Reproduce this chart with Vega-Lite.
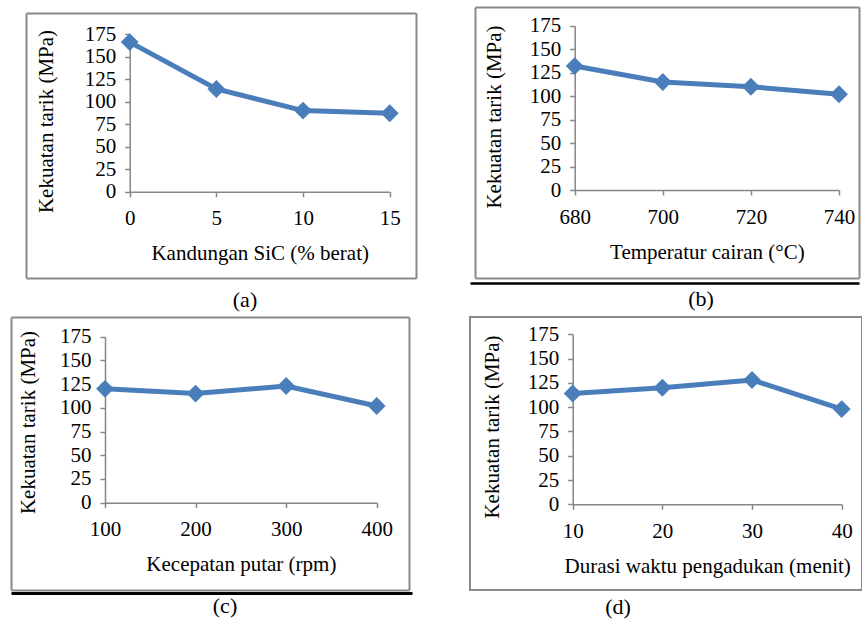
{
  "$schema": "https://vega.github.io/schema/vega-lite/v6.json",
  "padding": {"left": 11, "top": 7, "right": 0, "bottom": 0},
  "background": "white",
  "datasets": {
    "a": [{"x": 0, "y": 166}, {"x": 5, "y": 114}, {"x": 10, "y": 90}, {"x": 15, "y": 87}],
    "b": [{"x": 680, "y": 132}, {"x": 700, "y": 115}, {"x": 720, "y": 110}, {"x": 740, "y": 102}],
    "c": [{"x": 100, "y": 120}, {"x": 200, "y": 115}, {"x": 300, "y": 123}, {"x": 400, "y": 102}],
    "d": [{"x": 10, "y": 114}, {"x": 20, "y": 120}, {"x": 30, "y": 128}, {"x": 40, "y": 98}]
  },
  "config": {
    "view": {"stroke": null},
    "font": "Liberation Serif",
    "axis": {
      "grid": false, "domainColor": "#868686", "domainWidth": 1.5, "tickColor": "#868686", "tickWidth": 1.5, "tickSize": 5,
      "labelFont": "Liberation Serif", "labelFontSize": 21, "labelColor": "#000", "labelPadding": 9, "labelFlush": false, "labelOverlap": false,
      "titleFont": "Liberation Serif", "titleFontSize": 21, "titleFontWeight": "normal", "titleColor": "#000", "titlePadding": 14
    },
    "axisX": {"labelPadding": 11},
    "title": {"font": "Liberation Serif", "fontSize": 22, "fontWeight": "normal", "color": "#000", "orient": "bottom", "frame": "group", "offset": 10}
  },
  "spacing": 5,
  "vconcat": [
    {
      "spacing": 51,
      "hconcat": [
        {
          "width": 405, "height": 271,
          "data": {"name": "a"},
          "title": {"text": "(a)", "dx": 31.5, "offset": 12},
          "resolve": {"scale": {"x": "independent", "y": "independent"}},
          "layer": [
            {
              "encoding": {
                "x": {"field": "x", "type": "quantitative", "scale": {"domain": [0, 15], "range": [118.7, 378.7], "nice": false, "zero": false},
                      "axis": {"values": [0, 5, 10, 15], "offset": -86.3, "title": "Kandungan SiC (% berat)"}},
                "y": {"field": "y", "type": "quantitative", "scale": {"domain": [0, 175], "range": [184.7, 27], "nice": false},
                      "axis": {"values": [0, 25, 50, 75, 100, 125, 150, 175], "offset": -118.7, "titlePadding": 28, "titleY": 114, "title": "Kekuatan tarik (MPa)"}}
              },
              "layer": [
                {"mark": {"type": "line", "color": "#4a7ebb", "strokeWidth": 5}},
                {"mark": {"type": "point", "shape": "diamond", "filled": true, "opacity": 1, "size": 320, "color": "#4a7ebb"}}
              ]
            },
            {
              "mark": {"type": "point", "size": 0, "strokeWidth": 0, "opacity": 0},
              "encoding": {
                "x": {"field": "x", "type": "quantitative", "scale": {"range": [15, 405]},
                      "axis": {"orient": "top", "offset": -6, "domain": true, "domainColor": "#8a8a8a", "domainWidth": 2, "ticks": false, "labels": false, "grid": false, "title": null}},
                "y": {"field": "y", "type": "quantitative", "scale": {"range": [271, 6]},
                      "axis": {"orient": "left", "offset": -15, "domain": true, "domainColor": "#8a8a8a", "domainWidth": 2, "ticks": false, "labels": false, "grid": false, "title": null}}
              }
            },
            {
              "mark": {"type": "point", "size": 0, "strokeWidth": 0, "opacity": 0},
              "encoding": {
                "x": {"field": "x", "type": "quantitative", "scale": {"range": [15, 405]},
                      "axis": {"orient": "bottom", "offset": 0, "domain": true, "domainColor": "#8a8a8a", "domainWidth": 2, "ticks": false, "labels": false, "grid": false, "title": null}},
                "y": {"field": "y", "type": "quantitative", "scale": {"range": [271, 6]},
                      "axis": {"orient": "right", "offset": 0, "domain": true, "domainColor": "#8a8a8a", "domainWidth": 2, "ticks": false, "labels": false, "grid": false, "title": null}}
              }
            }
          ]
        },
        {
          "width": 392, "height": 271,
          "data": {"name": "b"},
          "title": {"text": "(b)", "dx": 38, "offset": 6},
          "resolve": {"scale": {"x": "independent", "y": "independent"}},
          "layer": [
            {
              "encoding": {
                "x": {"field": "x", "type": "quantitative", "scale": {"domain": [680, 740], "range": [107.7, 372], "nice": false, "zero": false},
                      "axis": {"values": [680, 700, 720, 740], "offset": -88, "title": "Temperatur cairan (°C)"}},
                "y": {"field": "y", "type": "quantitative", "scale": {"domain": [0, 175], "range": [183, 18.7], "nice": false},
                      "axis": {"values": [0, 25, 50, 75, 100, 125, 150, 175], "offset": -107.7, "titlePadding": 25, "titleY": 109.5, "title": "Kekuatan tarik (MPa)"}}
              },
              "layer": [
                {"mark": {"type": "line", "color": "#4a7ebb", "strokeWidth": 5}},
                {"mark": {"type": "point", "shape": "diamond", "filled": true, "opacity": 1, "size": 320, "color": "#4a7ebb"}}
              ]
            },
            {
              "mark": {"type": "point", "size": 0, "strokeWidth": 0, "opacity": 0},
              "encoding": {
                "x": {"field": "x", "type": "quantitative", "scale": {"range": [8, 392]},
                      "axis": {"orient": "top", "offset": 0, "domain": true, "domainColor": "#8a8a8a", "domainWidth": 2, "ticks": false, "labels": false, "grid": false, "title": null}},
                "y": {"field": "y", "type": "quantitative", "scale": {"range": [271, 0]},
                      "axis": {"orient": "left", "offset": -8, "domain": true, "domainColor": "#8a8a8a", "domainWidth": 2, "ticks": false, "labels": false, "grid": false, "title": null}}
              }
            },
            {
              "mark": {"type": "point", "size": 0, "strokeWidth": 0, "opacity": 0},
              "encoding": {
                "x": {"field": "x", "type": "quantitative", "scale": {"range": [8, 392]},
                      "axis": {"orient": "bottom", "offset": 0, "domain": true, "domainColor": "#8a8a8a", "domainWidth": 2, "ticks": false, "labels": false, "grid": false, "title": null}},
                "y": {"field": "y", "type": "quantitative", "scale": {"range": [271, 0]},
                      "axis": {"orient": "right", "offset": 0, "domain": true, "domainColor": "#8a8a8a", "domainWidth": 2, "ticks": false, "labels": false, "grid": false, "title": null}}
              }
            },
            {
              "mark": {"type": "point", "size": 0, "strokeWidth": 0, "opacity": 0},
              "encoding": {
                "x": {"field": "x", "type": "quantitative", "scale": {"range": [3, 392]},
                      "axis": {"orient": "bottom", "offset": 5, "domain": true, "domainColor": "#000", "domainWidth": 2.5, "ticks": false, "labels": false, "grid": false, "title": null}}
              }
            }
          ]
        }
      ]
    },
    {
      "spacing": 53,
      "hconcat": [
        {
          "width": 405, "height": 273,
          "data": {"name": "c"},
          "title": {"text": "(c)", "dx": 11.5, "offset": 3},
          "resolve": {"scale": {"x": "independent", "y": "independent"}},
          "layer": [
            {
              "encoding": {
                "x": {"field": "x", "type": "quantitative", "scale": {"domain": [100, 400], "range": [94, 365.7], "nice": false, "zero": false},
                      "axis": {"values": [100, 200, 300, 400], "offset": -87.3, "title": "Kecepatan putar (rpm)"}},
                "y": {"field": "y", "type": "quantitative", "scale": {"domain": [0, 175], "range": [185.7, 19.7], "nice": false},
                      "axis": {"values": [0, 25, 50, 75, 100, 125, 150, 175], "offset": -94, "titlePadding": 21, "titleY": 105, "title": "Kekuatan tarik (MPa)"}}
              },
              "layer": [
                {"mark": {"type": "line", "color": "#4a7ebb", "strokeWidth": 5}},
                {"mark": {"type": "point", "shape": "diamond", "filled": true, "opacity": 1, "size": 320, "color": "#4a7ebb"}}
              ]
            },
            {
              "mark": {"type": "point", "size": 0, "strokeWidth": 0, "opacity": 0},
              "encoding": {
                "x": {"field": "x", "type": "quantitative", "scale": {"range": [0, 398]},
                      "axis": {"orient": "top", "offset": 0, "domain": true, "domainColor": "#8a8a8a", "domainWidth": 2, "ticks": false, "labels": false, "grid": false, "title": null}},
                "y": {"field": "y", "type": "quantitative", "scale": {"range": [273, 0]},
                      "axis": {"orient": "left", "offset": 0, "domain": true, "domainColor": "#8a8a8a", "domainWidth": 2, "ticks": false, "labels": false, "grid": false, "title": null}}
              }
            },
            {
              "mark": {"type": "point", "size": 0, "strokeWidth": 0, "opacity": 0},
              "encoding": {
                "x": {"field": "x", "type": "quantitative", "scale": {"range": [0, 398]},
                      "axis": {"orient": "bottom", "offset": 0, "domain": true, "domainColor": "#8a8a8a", "domainWidth": 2, "ticks": false, "labels": false, "grid": false, "title": null}},
                "y": {"field": "y", "type": "quantitative", "scale": {"range": [273, 0]},
                      "axis": {"orient": "right", "offset": -7, "domain": true, "domainColor": "#8a8a8a", "domainWidth": 2, "ticks": false, "labels": false, "grid": false, "title": null}}
              }
            },
            {
              "mark": {"type": "point", "size": 0, "strokeWidth": 0, "opacity": 0},
              "encoding": {
                "x": {"field": "x", "type": "quantitative", "scale": {"range": [0, 401]},
                      "axis": {"orient": "bottom", "offset": 3, "domain": true, "domainColor": "#000", "domainWidth": 3, "ticks": false, "labels": false, "grid": false, "title": null}}
              }
            }
          ]
        },
        {
          "width": 392, "height": 273,
          "data": {"name": "d"},
          "view": {"stroke": "#8a8a8a", "strokeWidth": 2},
          "title": {"text": "(d)", "dx": -48, "offset": 7},
          "encoding": {
            "x": {"field": "x", "type": "quantitative", "scale": {"domain": [10, 40], "range": [102.7, 371.7], "nice": false, "zero": false},
                  "axis": {"values": [10, 20, 30, 40], "offset": -85.7, "title": "Durasi waktu pengadukan (menit)"}},
            "y": {"field": "y", "type": "quantitative", "scale": {"domain": [0, 175], "range": [187.3, 17.3], "nice": false},
                  "axis": {"values": [0, 25, 50, 75, 100, 125, 150, 175], "offset": -102.7, "titlePadding": 25, "titleY": 109.5, "title": "Kekuatan tarik (MPa)"}}
          },
          "layer": [
            {"mark": {"type": "line", "color": "#4a7ebb", "strokeWidth": 5}},
            {"mark": {"type": "point", "shape": "diamond", "filled": true, "opacity": 1, "size": 320, "color": "#4a7ebb"}}
          ]
        }
      ]
    }
  ]
}
